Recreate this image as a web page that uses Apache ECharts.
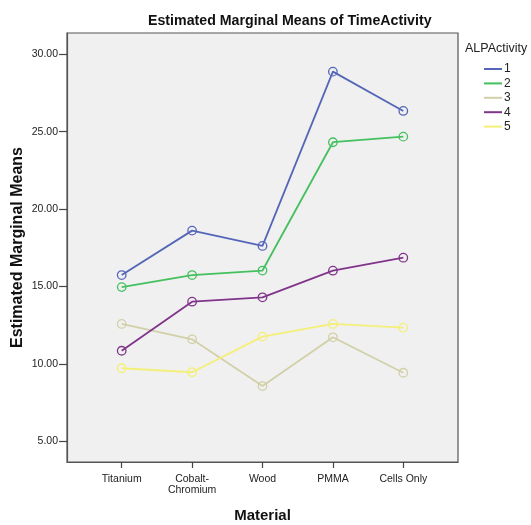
<!DOCTYPE html>
<html>
<head>
<meta charset="utf-8">
<script src="https://cdn.jsdelivr.net/npm/echarts@6/dist/echarts.min.js"></script>
<style>
html,body{margin:0;padding:0;background:#fff;}
#chart{width:531px;height:525px;}
</style>
</head>
<body>
<div id="chart"></div>
<script>
const categories = ['Titanium', 'Cobalt-\nChromium', 'Wood', 'PMMA', 'Cells Only'];
const seriesNames = ['1', '2', '3', '4', '5'];
const alp1 = [15.74, 18.61, 17.62, 28.88, 26.34];
const alp2 = [14.96, 15.74, 16.03, 24.32, 24.68];
const alp3 = [12.58, 11.59, 8.57, 11.72, 9.43];
const alp4 = [10.85, 14.02, 14.30, 16.02, 16.86];
const alp5 = [9.72, 9.46, 11.76, 12.58, 12.34];
const yTicks = [5, 10, 15, 20, 25, 30];
const xTicks = [0, 1, 2, 3, 4];

const allValues = [alp1, alp2, alp3, alp4, alp5];
const colors = ['#5566b8', '#45c05e', '#d2d0a8', '#80358a', '#f4ef78'];

const chart = echarts.init(document.getElementById('chart'));
const font = 'Liberation Sans, Arial, sans-serif';

const series = allValues.map((vals, i) => ({
  name: seriesNames[i],
  type: 'line',
  data: vals.map((v, j) => [xTicks[j], v]),
  symbol: 'circle',
  symbolSize: 8.5,
  lineStyle: { color: colors[i], width: 1.8 },
  itemStyle: { color: 'rgba(0,0,0,0)', borderColor: colors[i], borderWidth: 1.3 },
  emphasis: { disabled: true },
  animation: false
}));

chart.setOption({
  animation: false,
  backgroundColor: '#ffffff',
  title: {
    text: 'Estimated Marginal Means of TimeActivity',
    left: 143,
    top: 9,
    textStyle: { fontFamily: font, fontSize: 14.2, fontWeight: 'bold', color: '#111' }
  },
  graphic: [{
    type: 'text',
    left: 465,
    top: 42,
    style: { text: 'ALPActivity', font: '12.5px ' + font, fill: '#222' }
  }],
  legend: {
    orient: 'vertical',
    left: 484,
    top: 62,
    icon: 'rect',
    itemWidth: 18,
    itemHeight: 2,
    itemGap: 0.4,
    padding: 0,
    selectedMode: false,
    textStyle: { fontFamily: font, fontSize: 12, color: '#222', lineHeight: 14, padding: [0, 0, 0, -3] },
    data: seriesNames.map((n, i) => ({ name: n, itemStyle: { color: colors[i], borderWidth: 0 } }))
  },
  grid: {
    left: 67, right: 73, top: 33, bottom: 63,
    containLabel: false,
    outerBoundsMode: 'none',
    show: true,
    backgroundColor: '#f0f0f0',
    borderColor: '#555',
    borderWidth: 1.2
  },
  xAxis: {
    type: 'value',
    min: -0.777,
    max: 4.777,
    name: 'Material',
    nameLocation: 'middle',
    nameGap: 46,
    nameTextStyle: { fontFamily: font, fontSize: 15, fontWeight: 'bold', color: '#111' },
    splitLine: { show: false },
    axisLine: { show: true, onZero: false, lineStyle: { color: '#555', width: 1.2 } },
    axisTick: { show: true, inside: false, customValues: xTicks, length: 6, lineStyle: { color: '#444', width: 1.2 } },
    axisLabel: {
      customValues: xTicks,
      formatter: v => categories[Math.round(v)],
      fontFamily: font, fontSize: 10.5, color: '#222', lineHeight: 11, margin: 12
    }
  },
  yAxis: {
    type: 'value',
    min: 3.663,
    max: 31.376,
    name: 'Estimated Marginal Means',
    nameLocation: 'middle',
    nameGap: 41,
    nameMoveOverlap: false,
    nameTextStyle: { fontFamily: font, fontSize: 16, fontWeight: 'bold', color: '#111' },
    splitLine: { show: false },
    axisLine: { show: true, onZero: false, lineStyle: { color: '#555', width: 1.2 } },
    axisTick: { show: true, inside: false, customValues: yTicks, length: 8, lineStyle: { color: '#444', width: 1.2 } },
    axisLabel: {
      customValues: yTicks,
      formatter: v => v.toFixed(2),
      fontFamily: font, fontSize: 10.5, color: '#222', margin: 9
    }
  },
  series: series
});
</script>
</body>
</html>
